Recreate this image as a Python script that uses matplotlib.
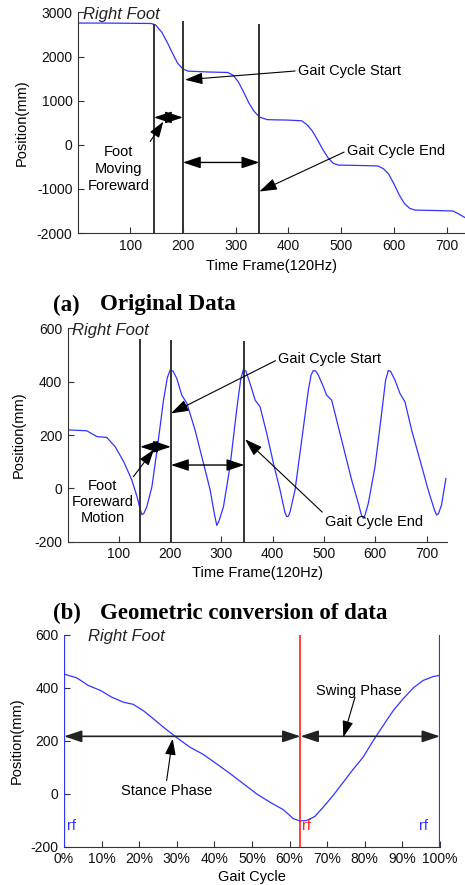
import matplotlib
matplotlib.use("Agg")
import matplotlib.pyplot as plt

plt.rcParams['font.family'] = ['Liberation Sans', 'DejaVu Sans']
plt.rcParams['font.size'] = 10
plt.rcParams['axes.unicode_minus'] = False

# ---------------- data ----------------
frames_a = [1, 50, 100, 140, 148, 160, 170, 180, 190, 200, 210, 250, 285, 295, 305, 315,
            325, 335, 345, 360, 400, 425, 435, 445, 455, 465, 475, 485, 495, 540, 570,
            580, 590, 600, 610, 620, 630, 640, 680, 712, 722, 735]
pos_a = [2760, 2760, 2755, 2750, 2720, 2550, 2330, 2080, 1850, 1720, 1670, 1650, 1640,
         1580, 1430, 1200, 950, 760, 630, 570, 560, 545, 460, 320, 120, -100, -290, -420,
         -460, -470, -480, -540, -660, -880, -1130, -1330, -1440, -1480, -1490, -1500,
         -1560, -1650]

frames_b = [2.7, 38, 58, 77, 93.5, 110, 126, 136, 142, 145.4, 149, 155, 165, 175, 187.6,
            195, 200.5, 206, 213.5, 223, 233, 249, 265.4, 278.4, 287, 291.4, 296, 304.3,
            317, 330, 338, 343, 348, 356, 366, 375.6, 388.6, 401.6, 414.5, 424, 427.5,
            431, 434, 443.7, 456.7, 469.7, 475, 479.4, 484, 489, 498.9, 505, 515, 528,
            541, 554, 567, 573, 576.7, 580, 586.4, 599.4, 612.3, 620, 625.3, 630, 638.3,
            648, 657.7, 670.7, 687, 703, 715, 719.4, 723, 729, 737.5]
pos_b = [219, 216, 194, 191, 156, 100, 31, -31, -78, -98, -95, -69, 6, 144, 331, 415,
         444, 440, 412, 350, 319, 219, 94, -6, -100, -139, -120, -69, 81, 294, 410, 445,
         440, 394, 331, 306, 206, 94, -6, -90, -106, -104, -88, -6, 181, 369, 425, 442,
         440, 425, 381, 350, 331, 231, 131, 31, -56, -100, -112, -100, -56, 81, 281, 405,
         442, 438, 406, 356, 325, 219, 106, -6, -80, -100, -95, -62, 37]

cycle_c = [0.3, 3.4, 6.5, 9.6, 12.7, 15.8, 18.4, 21, 23.8, 26.4, 30, 33.5, 37, 40.6,
           44.2, 47.7, 51.2, 54.8, 58.3, 61, 62.8, 64.5, 66.7, 69, 71.6, 74.3, 77, 79.6,
           82.3, 84.9, 87.6, 90.2, 92.9, 95.5, 98.2, 99.8]
pos_c = [451, 438, 409, 391, 365, 346, 338, 315, 283, 252, 212, 176, 149, 113, 76, 38,
         0, -32, -60, -94, -103, -101, -86, -50, -6, 44, 94, 139, 202, 258, 315, 359,
         400, 428, 443, 447]

lines_a_x = [145, 200, 345]
lines_a_top = [2740, 2805, 2740]
lines_b_x = [142, 202, 345]
lines_b_top = [559, 556, 553]

xticks_ab = [100, 200, 300, 400, 500, 600, 700]
yticks_a = [-2000, -1000, 0, 1000, 2000, 3000]
yticks_b = [-200, 0, 200, 400, 600]
xticks_c = [0, 10, 20, 30, 40, 50, 60, 70, 80, 90, 100]
xticklabels_c = [f"{v}%" for v in xticks_c]
toe_off_c = 62.9

BLUE = '#3333ff'
RED = '#ff2020'
GRAY = '#333333'

fig = plt.figure(figsize=(4.65, 8.85), dpi=100)

def style(ax):
    for s in ['top', 'right']:
        ax.spines[s].set_visible(False)
    for s in ['left', 'bottom']:
        ax.spines[s].set_color(GRAY)
    ax.tick_params(direction='in', length=4, width=0.8, color=GRAY, pad=4,
                   labelsize=10, labelcolor='#111111')

AS = '-|>,head_length=0.9,head_width=0.3'
DS = '<|-|>,head_length=0.9,head_width=0.3'

def darrow(ax, x0, x1, y, ms=12, color='black', lw=1.0):
    ax.annotate('', xy=(x1, y), xytext=(x0, y),
                arrowprops=dict(arrowstyle=DS, color=color, lw=lw,
                                shrinkA=0, shrinkB=0, mutation_scale=ms))

def sarrow(ax, x0, y0, x1, y1, ms=11):
    ax.annotate('', xy=(x1, y1), xytext=(x0, y0),
                arrowprops=dict(arrowstyle=AS, color='black', lw=0.8,
                                shrinkA=0, shrinkB=0, mutation_scale=ms))

def label_arrow(ax, text, xy, xytext, relpos, ha='left', va='center'):
    ax.annotate(text, xy=xy, xytext=xytext, ha=ha, va=va, fontsize=10.5,
                arrowprops=dict(arrowstyle=AS, color='black', lw=0.8,
                                shrinkA=0, shrinkB=0, mutation_scale=12,
                                relpos=relpos))

def caption(y, tag, title):
    fam = ['Liberation Serif', 'DejaVu Serif']
    fig.text(0.114, y, tag, fontsize=16.5, fontweight='bold', family=fam,
             va='center', ha='left')
    fig.text(0.215, y, title, fontsize=16.5, fontweight='bold', family=fam,
             va='center', ha='left')

# ---------------- panel (a) ----------------
ax1 = fig.add_axes([0.1677, 0.7367, 0.8323, 0.2492])
ax1.plot(frames_a, pos_a, color=BLUE, lw=0.9)
ax1.vlines(lines_a_x, -2000, lines_a_top, color=GRAY, lw=1.4)
ax1.set_xlim(1, 735)
ax1.set_ylim(-2000, 3000)
ax1.set_xticks(xticks_ab)
ax1.set_yticks(yticks_a)
style(ax1)
ax1.set_xlabel('Time Frame(120Hz)', fontsize=10.5)
ax1.set_ylabel('Position(mm)', fontsize=10.5)
ax1.xaxis.set_label_coords(0.5, -0.118)
ax1.yaxis.set_label_coords(-0.128, 0.5)
ax1.text(0.013, 0.99, 'Right Foot', transform=ax1.transAxes, ha='left', va='center',
         fontsize=12, style='italic', color='#222222')
label_arrow(ax1, 'Gait Cycle Start', (204, 1474), (418, 1678), (0, 0.5))
label_arrow(ax1, 'Gait Cycle End', (345, -1059), (511, -136), (0, 0.5))
darrow(ax1, 200, 345, -400)
darrow(ax1, 145, 200, 620)
sarrow(ax1, 138, 75, 163, 528)
ax1.text(78, -544, 'Foot\nMoving\nForeward', ha='center', va='center', fontsize=10.5,
         linespacing=1.25)

caption(0.6554, '(a)', 'Original Data')

# ---------------- panel (b) ----------------
ax2 = fig.add_axes([0.1456, 0.3879, 0.815, 0.2411])
ax2.plot(frames_b, pos_b, color=BLUE, lw=0.9)
ax2.vlines(lines_b_x, -200, lines_b_top, color=GRAY, lw=1.4)
ax2.set_xlim(1, 739)
ax2.set_ylim(-200, 600)
ax2.set_xticks(xticks_ab)
ax2.set_yticks(yticks_b)
style(ax2)
ax2.set_xlabel('Time Frame(120Hz)', fontsize=10.5)
ax2.set_ylabel('Position(mm)', fontsize=10.5)
ax2.xaxis.set_label_coords(0.5, -0.114)
ax2.yaxis.set_label_coords(-0.11, 0.5)
ax2.text(0.011, 0.99, 'Right Foot', transform=ax2.transAxes, ha='left', va='center',
         fontsize=12, style='italic', color='#222222')
label_arrow(ax2, 'Gait Cycle Start', (202, 281), (411, 484), (0, 0.5))
label_arrow(ax2, 'Gait Cycle End', (346.5, 184), (502, -125), (0, 1))
darrow(ax2, 202, 345, 87.5)
darrow(ax2, 142, 202, 156)
sarrow(ax2, 129, 44, 169, 146)
ax2.text(69.5, -52, 'Foot\nForeward\nMotion', ha='center', va='center', fontsize=10.5,
         linespacing=1.2)

caption(0.3073, '(b)', 'Geometric conversion of data')

# ---------------- panel (c) ----------------
ax3 = fig.add_axes([0.1376, 0.0433, 0.8086, 0.2392])
ax3.plot(cycle_c, pos_c, color=BLUE, lw=0.9)
ax3.axvline(0, color=BLUE, lw=1.6)
ax3.axvline(100, color=BLUE, lw=1.6)
ax3.axvline(toe_off_c, color=RED, lw=1.2)
ax3.set_xlim(0, 100)
ax3.set_ylim(-200, 600)
ax3.set_xticks(xticks_c)
ax3.set_xticklabels(xticklabels_c)
ax3.set_yticks(yticks_b)
style(ax3)
ax3.spines['left'].set_visible(False)
ax3.set_xlabel('Gait Cycle', fontsize=10.5)
ax3.set_ylabel('Position(mm)', fontsize=10.5)
ax3.xaxis.set_label_coords(0.5, -0.11)
ax3.yaxis.set_label_coords(-0.108, 0.5)
ax3.text(0.064, 0.995, 'Right Foot', transform=ax3.transAxes, ha='left', va='center',
         fontsize=12, style='italic', color='#222222')
darrow(ax3, 0, toe_off_c, 217, color='#222222', lw=1.2)
darrow(ax3, toe_off_c, 100, 217, color='#222222', lw=1.2)
sarrow(ax3, 27.3, 50, 28.9, 208)
ax3.text(27.3, 9, 'Stance Phase', ha='center', va='center', fontsize=10.5)
sarrow(ax3, 77.4, 365, 74.3, 214)
ax3.text(78.3, 388, 'Swing Phase', ha='center', va='center', fontsize=10.5)
ax3.text(1.9, -120, 'rf', color=BLUE, ha='center', va='center', fontsize=10.5)
ax3.text(64.5, -120, 'rf', color=RED, ha='center', va='center', fontsize=10.5)
ax3.text(95.5, -120, 'rf', color=BLUE, ha='center', va='center', fontsize=10.5)

fig.savefig('out.png', dpi=100)
